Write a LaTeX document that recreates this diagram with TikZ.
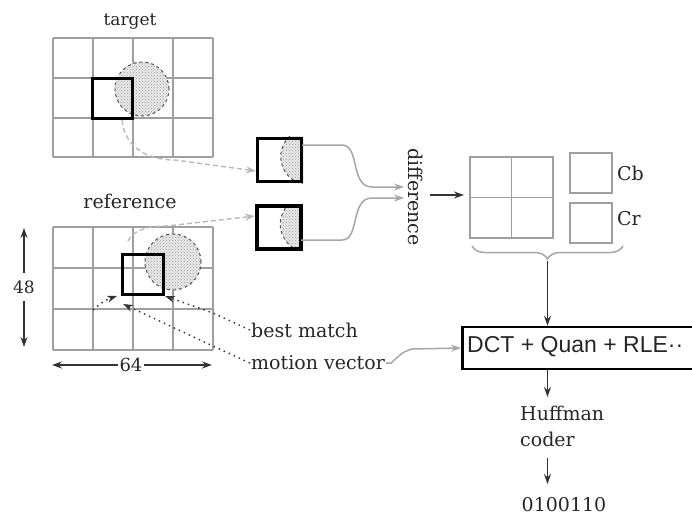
\documentclass[tikz,border=0pt]{standalone}
\usepackage{fontspec}
\setmainfont{DejaVu Serif}
\newfontfamily\sansf{Liberation Sans}
\usetikzlibrary{arrows.meta,patterns,decorations.pathreplacing}
\begin{document}
\begin{tikzpicture}[x=1pt,y=-1pt,
  gridline/.style={draw=gray!75,line width=1.8pt},
  blk/.style={draw=black,line width=3pt,minimum width=40pt,minimum height=40pt,inner sep=0pt},
  smallsq/.style={draw=black,line width=3.5pt,minimum width=44pt,minimum height=43pt,inner sep=0pt},
  blob/.style={fill=gray!18,postaction={pattern=crosshatch dots,pattern color=gray!75},draw=black!70,dashed,line width=1pt},
  lbl/.style={font=\fontsize{19}{26}\selectfont,text=black!85,inner sep=1pt},
  tip/.style={-{Stealth[length=10pt,width=7pt]}},
  grayarr/.style={tip,draw=gray!55,dashed,line width=1.4pt,dash pattern=on 5pt off 3pt},
  dotarr/.style={tip,draw=black!80,line width=1.4pt,dash pattern=on 1.5pt off 4pt},
  wire/.style={draw=gray!70,line width=1.5pt},
  dark/.style={draw=black!80,line width=1.3pt}]
\useasboundingbox (0,0) rectangle (692,515);
\clip (0,0) rectangle (692,515);

% ---------- target ----------
\node[lbl,font=\fontsize{17}{20}\selectfont] (tlab) at (130,22) {target};
\foreach \x in {53,93,133,173,213} \draw[gridline] (\x,38) -- (\x,157);
\foreach \y in {38,78,118,157} \draw[gridline] (53,\y) -- (213,\y);
\node[circle,blob,minimum size=54pt,inner sep=0pt] (tcirc) at (142,89) {};
\node[blk] (tblk) at (112.5,98.5) {};

% ---------- reference ----------
\node[lbl] (rlab) at (130,201) {reference};
\foreach \x in {53,93,133,173,213} \draw[gridline] (\x,227) -- (\x,350);
\foreach \y in {227,268,309,350} \draw[gridline] (53,\y) -- (213,\y);
\node[circle,blob,minimum size=56pt,inner sep=0pt] (rcirc) at (173,262) {};
\node[blk,minimum width=41pt] (rblk) at (142.5,274) {};

% dimensions
\node[lbl,font=\fontsize{17}{20}\selectfont] (n48) at (24,287) {48};
\coordinate (up48) at (24,228);
\coordinate (dn48) at (24,347);
\draw[tip,dark,line width=1.6pt] ([yshift=6pt]n48.north) -- (up48);
\draw[tip,dark,line width=1.6pt] ([yshift=-6pt]n48.south) -- (dn48);
\node[lbl,font=\fontsize{18}{20}\selectfont] (n64) at (131,365) {64};
\coordinate (l64) at (52,365);
\coordinate (r64) at (212,365);
\draw[tip,dark,line width=1.6pt] (n64.west) -- (l64);
\draw[tip,dark,line width=1.6pt] (n64.east) -- (r64);

% ---------- small blocks ----------
\node[smallsq] (sq1) at (279.5,160) {};
\node[smallsq] (sq2) at (279,227.5) {};
\begin{scope}
  \clip (sq1.north west) rectangle (sq1.south east);
  \path[blob] ([xshift=53pt,yshift=-20pt]sq1.north west) circle[radius=28];
\end{scope}
\begin{scope}
  \clip (sq2.north west) rectangle (sq2.south east);
  \path[blob] ([xshift=53pt,yshift=-20pt]sq2.north west) circle[radius=28];
\end{scope}
\node[smallsq] at (sq1) {};
\node[smallsq] at (sq2) {};

% gray dashed arrows from target / reference blocks
\coordinate (tstart) at (122,120);
\coordinate (sq1in) at (256,171);
\draw[grayarr] (tstart) .. controls (125,148) and (148,160) .. (175,160) -- (sq1in);
\coordinate (rstart) at (128,241);
\coordinate (sq2in) at (255,216);
\draw[grayarr] (rstart) .. controls (134,229) and (150,226) .. (167,226) -- (sq2in);

% ---------- difference ----------
\node[lbl,rotate=-90] (diff) at (416,197) {difference};
\coordinate (o1) at (302,145);
\coordinate (o2) at (301,240);
\coordinate (d1) at (404,187);
\coordinate (d2) at (404,198);
\draw[wire,tip] (o1) -- (342,145) .. controls (360,145) and (350,187) .. (372,187) -- (d1);
\draw[wire,tip] (o2) -- (342,240) .. controls (360,240) and (350,198) .. (372,198) -- (d2);

% ---------- 2x2 block and chroma ----------
\coordinate (dout) at (430,195);
\coordinate (gin) at (464,195);
\draw[dark,tip] (dout) -- (gin);
\node[draw=gray!75,line width=1.8pt,minimum width=83pt,minimum height=81pt,inner sep=0pt] (yblk) at (511.5,197.5) {};
\draw[gridline] (yblk.north) -- (yblk.south);
\draw[gridline] (yblk.west) -- (yblk.east);
\node[draw=gray!75,line width=1.8pt,minimum width=42pt,minimum height=40pt,inner sep=0pt] (cb) at (591,173) {};
\node[draw=gray!75,line width=1.8pt,minimum width=42pt,minimum height=40pt,inner sep=0pt] (cr) at (591,223) {};
\node[lbl,anchor=west] (cblab) at (616,173) {Cb};
\node[lbl,anchor=west] (crlab) at (616,219) {Cr};
\coordinate (bl) at (472,246);
\coordinate (br) at (623,246);
\draw[draw=gray!70,line width=1.5pt,decorate,decoration={brace,mirror,amplitude=13pt}] (bl) -- (br);
\coordinate (btip) at (547.5,261);

% ---------- coding chain ----------
\node[draw=black,line width=2.5pt,minimum width=250pt,minimum height=42pt,anchor=west,inner sep=0pt] (dct) at (461,348) {};
\node[anchor=west,font=\sansf\fontsize{23}{26}\selectfont,text=black!85,inner sep=0pt] (dcttxt) at (467,347) {DCT + Quan + RLE··};
\draw[dark,tip] (btip) -- (dct.north -| btip);

\node[lbl,anchor=west] (bm) at (250,330) {best match};
\node[lbl,anchor=west] (mv) at (250,363) {motion vector};
\coordinate (bmk) at (213,313);
\coordinate (bmt) at (165,296);
\draw[dotarr] (bm.west) -- (bmk) -- (bmt);
\coordinate (mvk) at (213,346);
\coordinate (mvt) at (123,304);
\draw[dotarr] (mv.west) -- (mvk) -- (mvt);
\coordinate (cvs) at (93,310);
\coordinate (cve) at (117,296);
\draw[dotarr] (cvs) to[bend left=12] (cve);

\draw[wire,tip] (mv.east) -- ++(5,0) .. controls (403,352) .. (412,349) -- (dct.west);

\coordinate (dctout) at (547.5,369);
\node[lbl,anchor=north west,align=left] (huff) at (519,405) {Huffman\\coder};
\draw[dark,tip] (dctout) -- (547.5,397);
\node[lbl,inner sep=0pt,anchor=south] (bits) at (564,512) {0100110};
\draw[dark,tip] (547.5,458) -- (547.5,484);
\end{tikzpicture}
\end{document}
